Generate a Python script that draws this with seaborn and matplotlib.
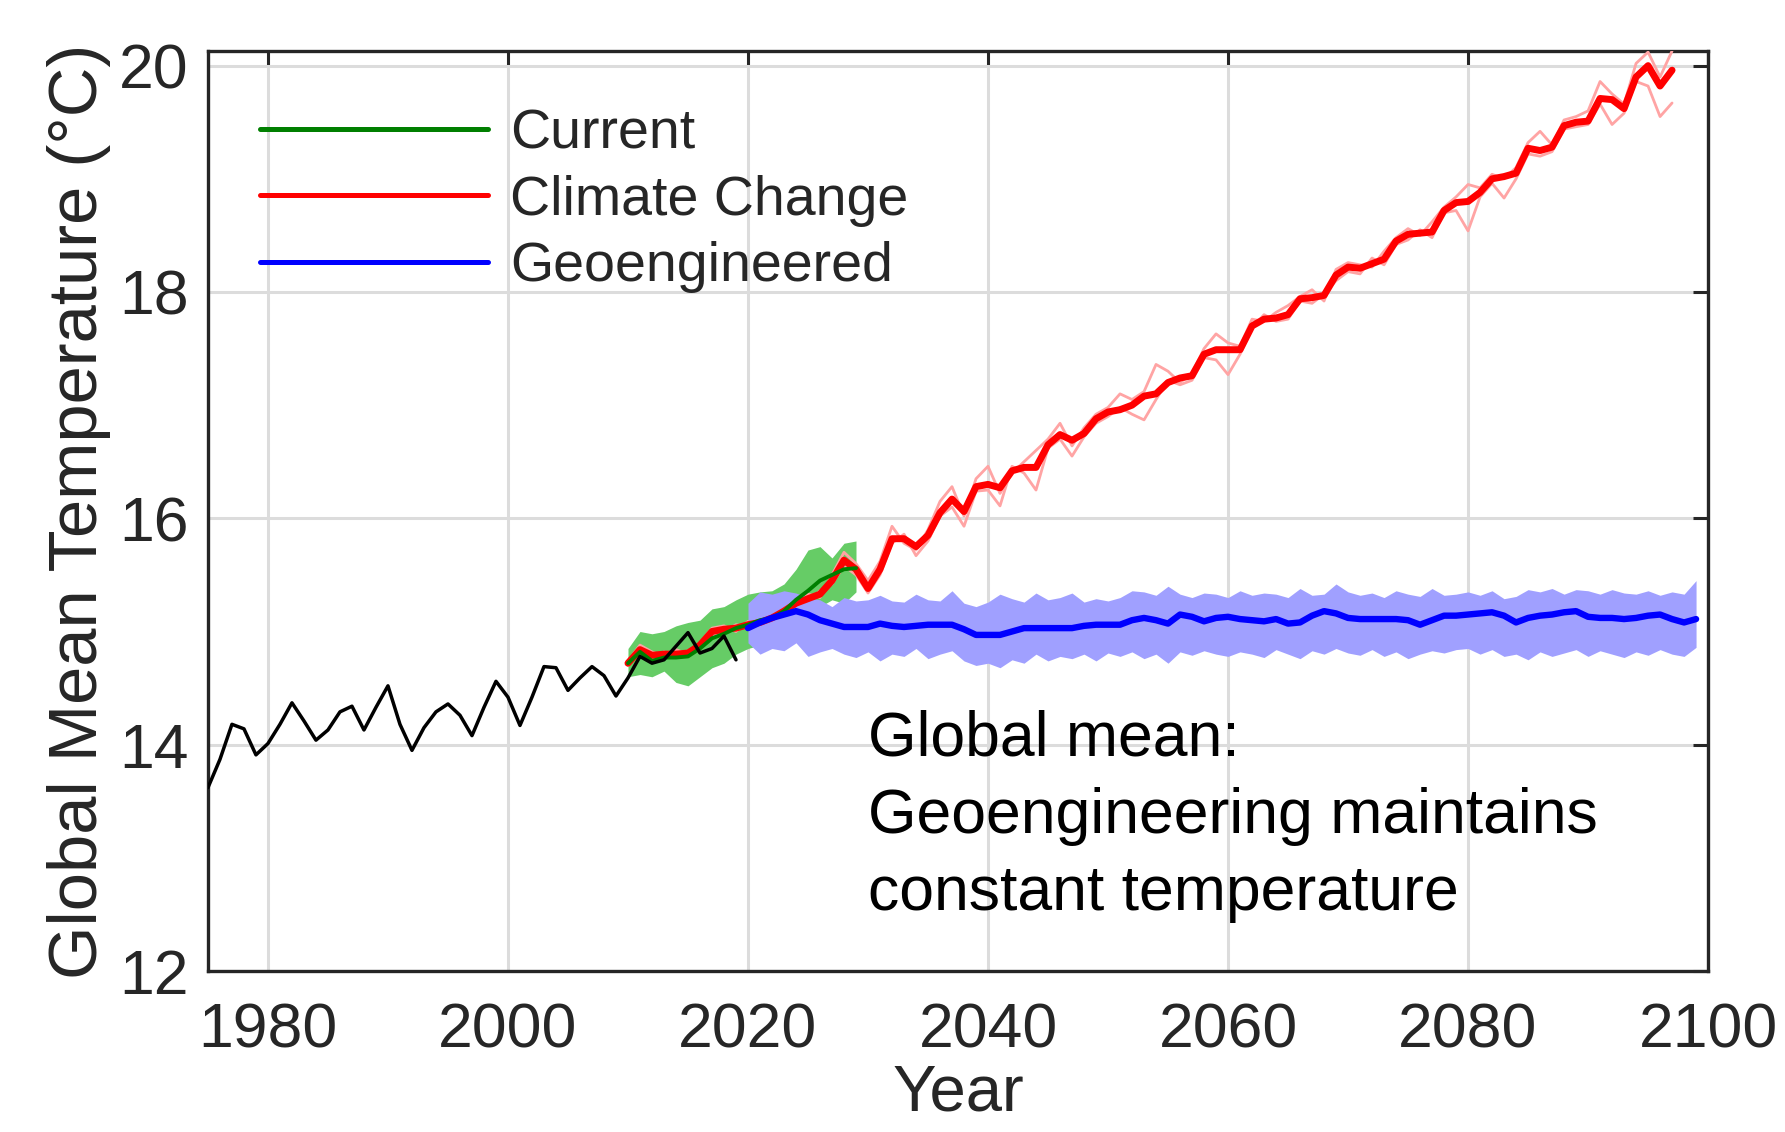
import numpy as np
import pandas as pd
import matplotlib
matplotlib.use("Agg")
import matplotlib.pyplot as plt
import seaborn as sns

# ---- data -------------------------------------------------------------
hist_years = list(range(1975, 2020))
hist_temp = [13.62, 13.87, 14.18, 14.14, 13.91, 14.01, 14.18, 14.37, 14.21, 14.04,
             14.13, 14.29, 14.34, 14.13, 14.33, 14.52, 14.18, 13.95, 14.15, 14.29,
             14.36, 14.26, 14.08, 14.33, 14.56, 14.42, 14.17, 14.42, 14.69, 14.68,
             14.48, 14.59, 14.69, 14.61, 14.43, 14.59, 14.78, 14.72, 14.75, 14.87,
             14.99, 14.81, 14.85, 14.96, 14.75]

cur_years = list(range(2010, 2030))
cur_mean = [14.72, 14.82, 14.74, 14.77, 14.77, 14.78, 14.85, 14.94, 14.98, 15.03,
            15.06, 15.10, 15.12, 15.18, 15.28, 15.36, 15.45, 15.50, 15.55, 15.56]
cur_upper = [14.85, 15.00, 14.98, 15.00, 15.05, 15.08, 15.10, 15.20, 15.22, 15.28,
             15.33, 15.35, 15.36, 15.42, 15.55, 15.72, 15.75, 15.65, 15.78, 15.80]
cur_lower = [14.60, 14.62, 14.60, 14.65, 14.55, 14.52, 14.60, 14.68, 14.72, 14.80,
             14.85, 14.88, 14.90, 14.95, 15.05, 15.12, 15.22, 15.28, 15.25, 15.35]

cc_years = list(range(2010, 2098))
cc_mean = [14.72, 14.84, 14.79, 14.80, 14.80, 14.81, 14.88, 15.00, 15.02, 15.03,
           15.06, 15.08, 15.12, 15.18, 15.25, 15.29, 15.33, 15.45, 15.63, 15.55,
           15.38, 15.55, 15.82, 15.82, 15.75, 15.85, 16.05, 16.17, 16.06, 16.28,
           16.30, 16.27, 16.42, 16.45, 16.45, 16.65, 16.74, 16.69, 16.75, 16.88,
           16.94, 16.96, 17.00, 17.08, 17.10, 17.20, 17.24, 17.26, 17.45, 17.49,
           17.49, 17.49, 17.70, 17.76, 17.77, 17.80, 17.94, 17.95, 17.97, 18.15,
           18.22, 18.21, 18.25, 18.29, 18.45, 18.51, 18.52, 18.53, 18.72, 18.79,
           18.80, 18.88, 19.00, 19.02, 19.05, 19.27, 19.25, 19.28, 19.47, 19.50,
           19.51, 19.71, 19.70, 19.62, 19.90, 20.00, 19.82, 19.96]
cc_member_a = [14.74, 14.88, 14.82, 14.78, 14.84, 14.80, 14.90, 15.03, 15.05, 15.00,
               15.09, 15.06, 15.14, 15.20, 15.22, 15.33, 15.30, 15.50, 15.70, 15.60,
               15.45, 15.62, 15.93, 15.78, 15.72, 15.90, 16.15, 16.28, 16.02, 16.35,
               16.46, 16.22, 16.40, 16.50, 16.60, 16.70, 16.84, 16.64, 16.80, 16.92,
               16.98, 17.10, 17.05, 17.12, 17.36, 17.30, 17.20, 17.28, 17.50, 17.63,
               17.55, 17.52, 17.76, 17.74, 17.82, 17.88, 17.96, 18.02, 17.92, 18.20,
               18.26, 18.24, 18.22, 18.36, 18.48, 18.56, 18.50, 18.62, 18.75, 18.84,
               18.95, 18.92, 19.04, 19.00, 19.10, 19.32, 19.42, 19.30, 19.52, 19.55,
               19.60, 19.86, 19.75, 19.66, 20.02, 20.12, 19.90, 20.13]
cc_member_b = [14.70, 14.82, 14.76, 14.82, 14.78, 14.83, 14.86, 14.96, 15.00, 15.06,
               15.04, 15.10, 15.10, 15.16, 15.28, 15.26, 15.36, 15.42, 15.58, 15.50,
               15.34, 15.50, 15.78, 15.86, 15.67, 15.80, 16.02, 16.10, 15.93, 16.24,
               16.25, 16.11, 16.46, 16.40, 16.25, 16.62, 16.70, 16.55, 16.72, 16.84,
               16.90, 16.98, 16.92, 16.87, 17.05, 17.22, 17.18, 17.22, 17.42, 17.40,
               17.27, 17.45, 17.68, 17.80, 17.74, 17.76, 17.92, 17.90, 17.98, 18.10,
               18.18, 18.16, 18.30, 18.24, 18.42, 18.46, 18.55, 18.48, 18.70, 18.72,
               18.54, 18.84, 18.96, 18.83, 19.00, 19.22, 19.20, 19.24, 19.44, 19.46,
               19.48, 19.66, 19.48, 19.58, 19.86, 19.82, 19.55, 19.67]

geo_years = list(range(2020, 2100))
geo_mean = [15.03, 15.08, 15.12, 15.15, 15.18, 15.15, 15.10, 15.07, 15.04, 15.04,
            15.04, 15.07, 15.05, 15.04, 15.05, 15.06, 15.06, 15.06, 15.02, 14.97,
            14.97, 14.97, 15.00, 15.03, 15.03, 15.03, 15.03, 15.03, 15.05, 15.06,
            15.06, 15.06, 15.10, 15.12, 15.10, 15.07, 15.15, 15.13, 15.09, 15.12,
            15.13, 15.11, 15.10, 15.09, 15.11, 15.07, 15.08, 15.14, 15.18, 15.16,
            15.12, 15.11, 15.11, 15.11, 15.11, 15.10, 15.06, 15.10, 15.14, 15.14,
            15.15, 15.16, 15.17, 15.14, 15.08, 15.12, 15.14, 15.15, 15.17, 15.18,
            15.13, 15.12, 15.12, 15.11, 15.12, 15.14, 15.15, 15.11, 15.08, 15.11]
geo_upper = [15.25, 15.35, 15.33, 15.36, 15.34, 15.30, 15.28, 15.22, 15.30, 15.27,
             15.28, 15.32, 15.27, 15.26, 15.33, 15.28, 15.27, 15.36, 15.25, 15.22,
             15.26, 15.33, 15.29, 15.26, 15.34, 15.28, 15.30, 15.34, 15.26, 15.29,
             15.27, 15.30, 15.36, 15.35, 15.32, 15.40, 15.33, 15.30, 15.34, 15.33,
             15.30, 15.36, 15.32, 15.34, 15.33, 15.30, 15.38, 15.32, 15.33, 15.42,
             15.35, 15.32, 15.34, 15.30, 15.36, 15.33, 15.31, 15.38, 15.32, 15.33,
             15.35, 15.32, 15.36, 15.29, 15.31, 15.37, 15.35, 15.38, 15.33, 15.37,
             15.36, 15.33, 15.37, 15.34, 15.33, 15.36, 15.32, 15.35, 15.33, 15.45]
geo_lower = [14.90, 14.80, 14.85, 14.83, 14.90, 14.78, 14.82, 14.85, 14.80, 14.77,
             14.82, 14.74, 14.80, 14.78, 14.85, 14.76, 14.80, 14.83, 14.74, 14.70,
             14.72, 14.68, 14.75, 14.72, 14.80, 14.74, 14.78, 14.76, 14.80, 14.74,
             14.81, 14.78, 14.82, 14.76, 14.80, 14.72, 14.82, 14.79, 14.83, 14.80,
             14.78, 14.82, 14.80, 14.77, 14.84, 14.80, 14.76, 14.83, 14.80, 14.85,
             14.81, 14.79, 14.84, 14.78, 14.82, 14.76, 14.80, 14.83, 14.81, 14.84,
             14.85, 14.80, 14.84, 14.78, 14.80, 14.75, 14.82, 14.78, 14.81, 14.84,
             14.78, 14.83, 14.80, 14.77, 14.82, 14.79, 14.84, 14.80, 14.78, 14.86]

x_ticks = [1980, 2000, 2020, 2040, 2060, 2080, 2100]
y_ticks = [12, 14, 16, 18, 20]
series_labels = ["Current", "Climate Change", "Geoengineered"]
note_text = "Global mean:\nGeoengineering maintains\nconstant temperature"

# ---- style ------------------------------------------------------------
sns.set_theme(style="white")
plt.rcParams["font.family"] = ["Liberation Sans", "DejaVu Sans"]
ink = "#262626"
C_GREEN, C_GREEN_BAND = "#007f00", "#66cc66"
C_RED, C_RED_MEMBER = "#ff0000", "#ffa4a4"
C_BLUE, C_BLUE_BAND = "#0000ff", "#a0a0ff"

fig = plt.figure(figsize=(17.85, 11.32), dpi=100)
ax = fig.add_axes([0.1165, 0.1422, 0.8404, 0.8128])

# ensembles
ax.fill_between(cur_years, cur_lower, cur_upper, color=C_GREEN_BAND, lw=0, zorder=2)
sns.lineplot(x=cc_years, y=cc_member_a, color=C_RED_MEMBER, lw=2.0, ax=ax, zorder=3)
sns.lineplot(x=cc_years, y=cc_member_b, color=C_RED_MEMBER, lw=2.0, ax=ax, zorder=3)
ax.fill_between(geo_years, geo_lower, geo_upper, color=C_BLUE_BAND, lw=0, zorder=3)

# ensemble means and observations
sns.lineplot(x=cc_years, y=cc_mean, color=C_RED, lw=5.0, ax=ax, zorder=5,
             label=series_labels[1])
sns.lineplot(x=cur_years, y=cur_mean, color=C_GREEN, lw=2.8, ax=ax, zorder=6,
             label=series_labels[0])
sns.lineplot(x=geo_years, y=geo_mean, color=C_BLUE, lw=4.6, ax=ax, zorder=6,
             label=series_labels[2])
sns.lineplot(x=hist_years, y=hist_temp, color="black", lw=2.5, ax=ax, zorder=7)

# axes
ax.set_xlim(1975, 2100)
ax.set_ylim(12, 20.13)
ax.set_xticks(x_ticks)
ax.set_yticks(y_ticks)
ax.grid(True, color="#dcdcdc", lw=2.2, zorder=0)
ax.set_axisbelow(True)
for sp in ax.spines.values():
    sp.set_color(ink)
    sp.set_linewidth(2.4)
ax.tick_params(axis="both", which="both", direction="in", length=11, width=2.2,
               colors=ink, labelsize=45, top=True, right=True, pad=14)
ax.tick_params(axis="x", pad=22)
ax.set_xlabel("Year", fontsize=47, color=ink, labelpad=2)
ax.set_ylabel("Global Mean Temperature (°C)", fontsize=49.5, color=ink, labelpad=6)

# legend in Current / Climate Change / Geoengineered order
handles, labels = ax.get_legend_handles_labels()
order = [labels.index(l) for l in series_labels]
ax.legend([handles[i] for i in order], [labels[i] for i in order],
          loc="upper left", bbox_to_anchor=(0.02, 0.962), frameon=False,
          fontsize=40, handlelength=4.1, handletextpad=0.4, labelspacing=0.26,
          borderaxespad=0)
for h in ax.get_legend().get_lines():
    h.set_linewidth(3.6)

ax.text(2030, 14.31, note_text, fontsize=45, color="black", va="top", ha="left",
        linespacing=1.4, zorder=8)

fig.savefig("out.png", dpi=100)
